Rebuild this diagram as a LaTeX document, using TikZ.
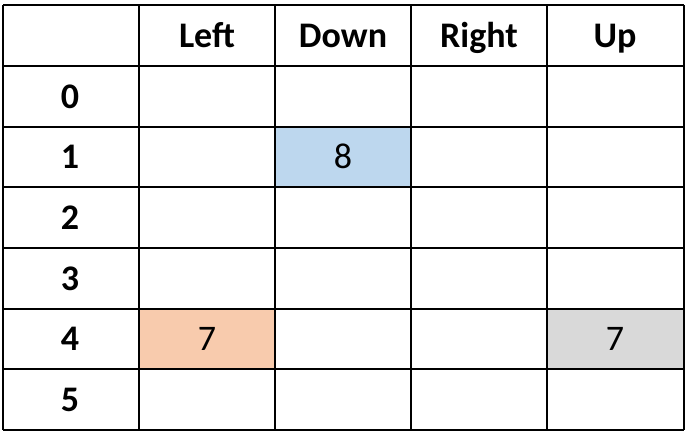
\documentclass[tikz,border=0pt]{standalone}
\usepackage{fontspec}
\setmainfont{Carlito}
\definecolor{cblue}{HTML}{BDD7EE}
\definecolor{corange}{HTML}{F8CBAD}
\definecolor{cgray}{HTML}{D9D9D9}
\begin{document}
\begin{tikzpicture}[x=1pt,y=-1pt,
  hdr/.style={anchor=base,inner sep=0pt,font=\fontsize{36}{40}\selectfont\bfseries},
  val/.style={anchor=base,inner sep=0pt,font=\fontsize{36}{40}\selectfont}]
\useasboundingbox (0,0) rectangle (686,445);
\fill[white] (0,0) rectangle (686,445);
% fills
\fill[cblue] (275,127) rectangle (411,187);
\fill[corange] (139,309) rectangle (275,369);
\fill[cgray] (547,309) rectangle (684,369);
% grid
\foreach \x in {3,139,275,411,547,684} \draw[line width=1.5pt] (\x,5) -- (\x,430);
\foreach \y in {5,66,127,187,248,309,369,430} \draw[line width=1.5pt] (3,\y) -- (684,\y);
% headers
\node[hdr] (hl) at (207,47) {Left};
\node[hdr] (hd) at (343,47) {Down};
\node[hdr] (hr) at (479,47) {Right};
\node[hdr] (hu) at (615,47) {Up};
\foreach \i/\y in {0/108,1/168,2/229,3/290,4/350,5/411}
  \node[hdr] (r\i) at (70,\y) {\i};
\node[val] (v1) at (343,168) {8};
\node[val] (v2) at (207,350) {7};
\node[val] (v3) at (615,350) {7};
\end{tikzpicture}
\end{document}
